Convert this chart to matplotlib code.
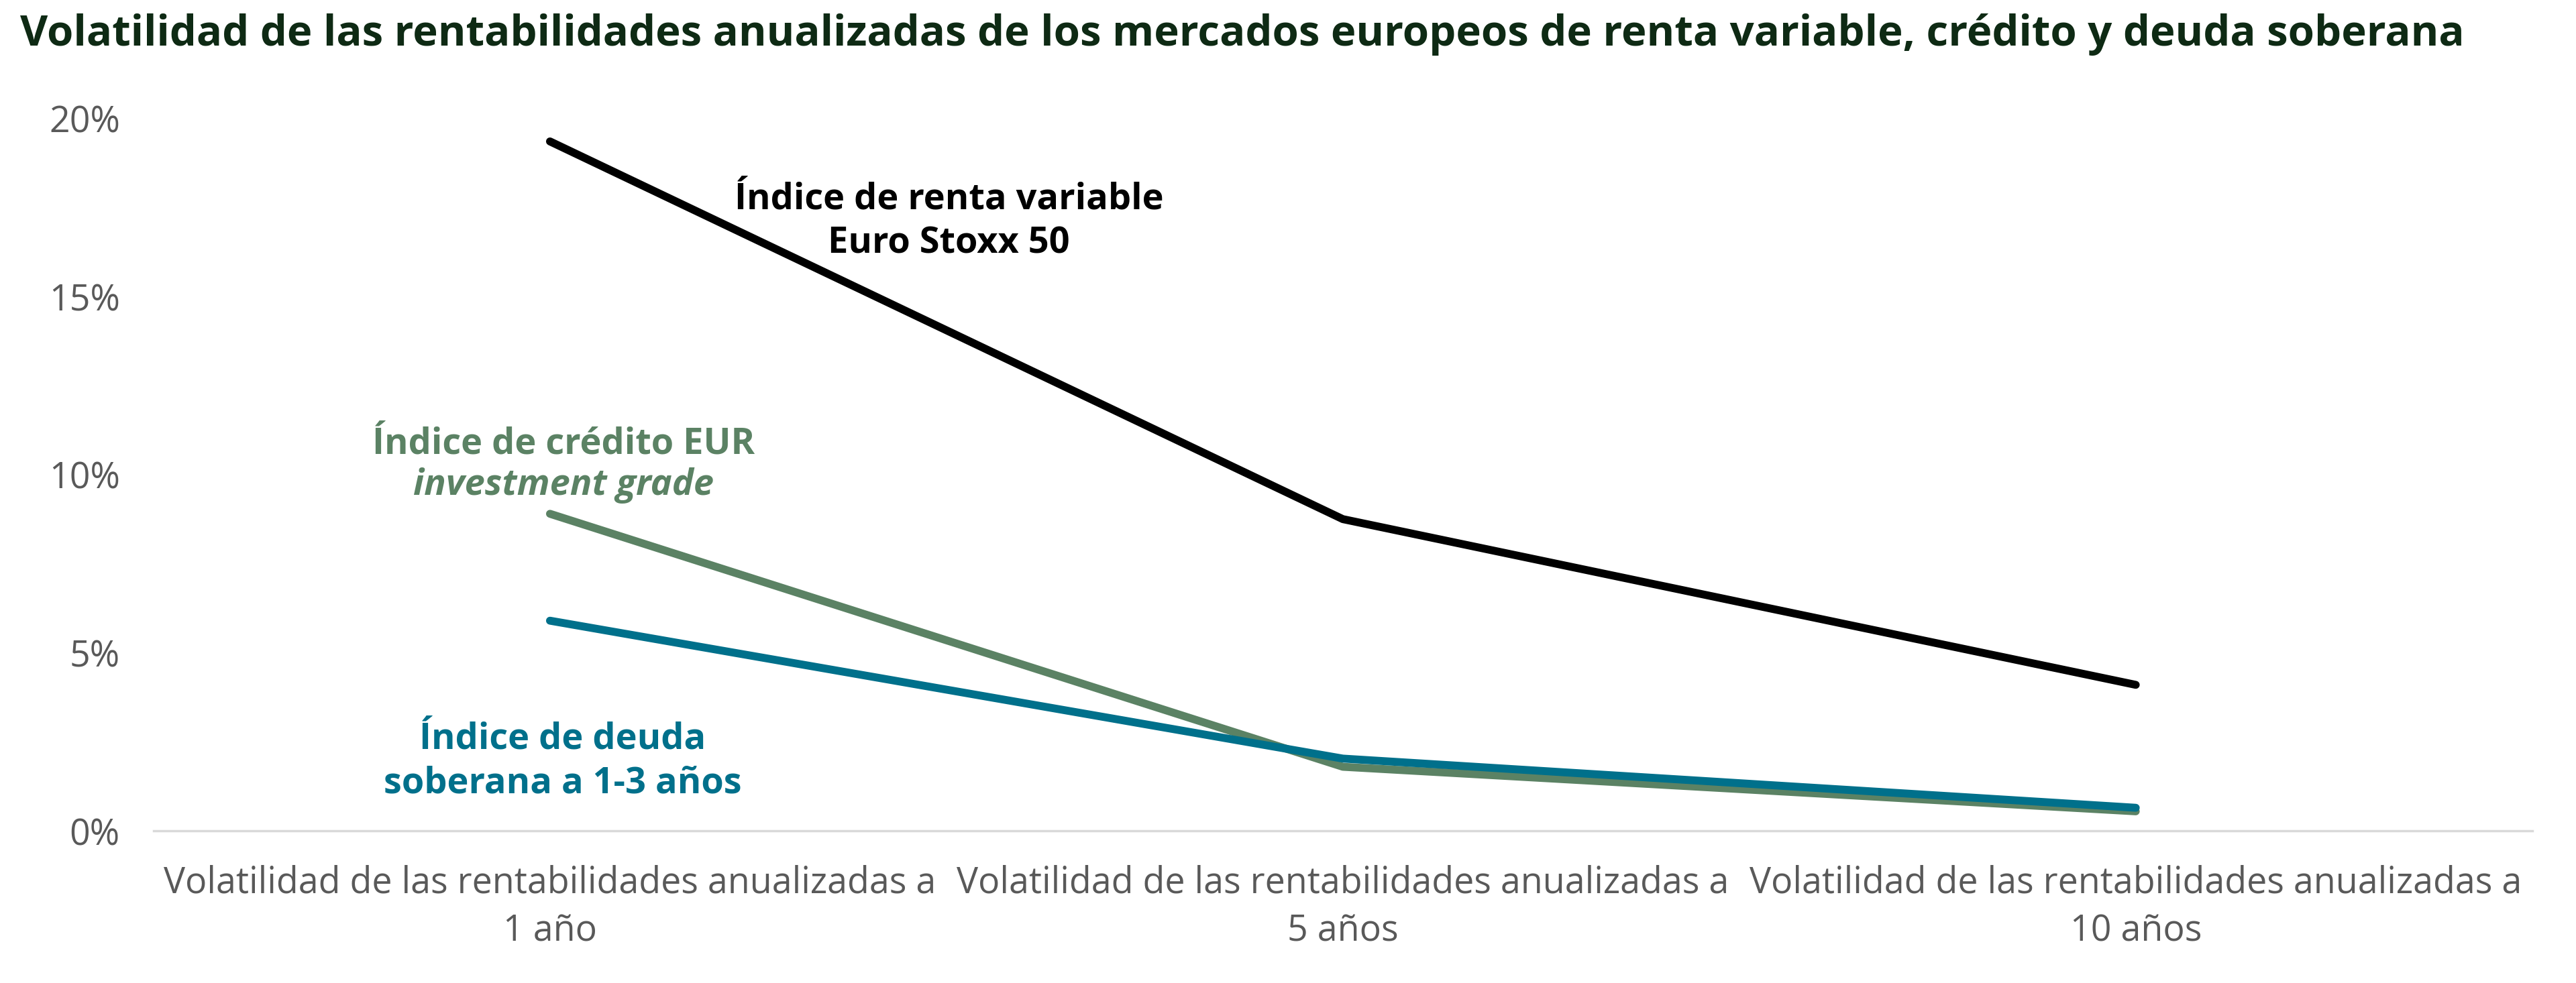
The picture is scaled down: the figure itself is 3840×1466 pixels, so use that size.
import matplotlib.pyplot as plt
from matplotlib.ticker import PercentFormatter

plt.rcParams['font.family'] = ['Open Sans', 'DejaVu Sans']

# Data
categorias = ['Volatilidad de las rentabilidades anualizadas a\n1 año',
              'Volatilidad de las rentabilidades anualizadas a\n5 años',
              'Volatilidad de las rentabilidades anualizadas a\n10 años']
renta_variable = [19.35, 8.75, 4.1]
credito_ig = [8.9, 1.8, 0.55]
deuda_soberana = [5.9, 2.03, 0.65]

c_negro = '#000000'
c_verde = '#5b8264'
c_azul = '#00708b'

fig = plt.figure(figsize=(38.4, 14.66), dpi=100)
ax = fig.add_axes([0.0596, 0.1547, 0.9234, 0.725])

x = range(len(categorias))
ax.plot(x, renta_variable, color=c_negro, lw=8.5, solid_capstyle='round')
ax.plot(x, credito_ig, color=c_verde, lw=8.5, solid_capstyle='round')
ax.plot(x, deuda_soberana, color=c_azul, lw=8.5, solid_capstyle='round')

ax.set_xlim(-0.5, 2.5)
ax.set_ylim(0, 20)
ax.set_yticks([0, 5, 10, 15, 20])
ax.yaxis.set_major_formatter(PercentFormatter(decimals=0))
ax.set_xticks(list(x))
ax.set_xticklabels(categorias, linespacing=1.4)

for s in ['top', 'right', 'left']:
    ax.spines[s].set_visible(False)
ax.spines['bottom'].set_color('#d9d9d9')
ax.spines['bottom'].set_linewidth(2.5)
ax.tick_params(axis='both', length=0, labelsize=38.7, colors='#595959')
ax.tick_params(axis='y', pad=36)
ax.tick_params(axis='x', pad=36)

# Etiquetas de series
ax.text(0.503, 17.1, 'Índice de renta variable\nEuro Stoxx 50', ha='center', va='center',
        fontsize=39, fontweight='bold', color=c_negro, linespacing=1.3)
ax.text(0.017, 10.85, 'Índice de crédito EUR', ha='center', va='center',
        fontsize=39, fontweight='bold', color=c_verde)
ax.text(0.017, 9.7, 'investment grade', ha='center', va='center',
        fontsize=39, fontweight='bold', style='italic', color=c_verde)
ax.text(0.016, 1.95, 'Índice de deuda\nsoberana a 1-3 años', ha='center', va='center',
        fontsize=39, fontweight='bold', color=c_azul, linespacing=1.3)

fig.text(0.0077, 0.965, 'Volatilidad de las rentabilidades anualizadas de los mercados europeos de renta variable, crédito y deuda soberana',
         ha='left', va='center', fontsize=45.7, fontweight='bold', color='#0e2a14')

fig.savefig('out.png', dpi=100)
